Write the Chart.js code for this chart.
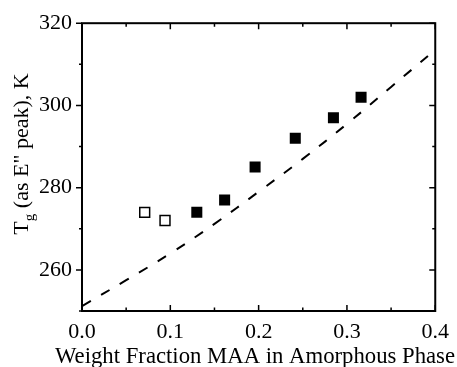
<!DOCTYPE html>
<html>
<head>
<meta charset="utf-8">
<script src="https://cdn.jsdelivr.net/npm/chart.js@4/dist/chart.umd.min.js"></script>
<style>
  body { margin: 0; background: #fff; }
</style>
</head>
<body>
<canvas id="chart" width="457" height="367"></canvas>
<script>
// values
const fitX = [0, 0.05, 0.1, 0.15, 0.2, 0.25, 0.3, 0.35, 0.4];
const fitY = [251.2, 257.5, 264, 271.2, 279, 287, 295.5, 304.5, 313.5];

const openX = [0.071, 0.094];
const openY = [274, 272];

const filledX = [0.130, 0.1615, 0.196, 0.2415, 0.2847, 0.316];
const filledY = [274, 277, 285, 292, 297, 302];

const xTicks = [0.0, 0.1, 0.2, 0.3, 0.4];
const yTicks = [260, 280, 300, 320];

const xTitle = 'Weight Fraction MAA in Amorphous Phase';

const serif = 'Liberation Serif';

const toPoints = (xs, ys) => xs.map((x, i) => ({x: x, y: ys[i]}));

// frame + inward/outward tick marks like the original plot, plus axis titles
const framePlugin = {
    id: 'frame',
    afterDraw(chart) {
        const ctx = chart.ctx;
        const a = chart.chartArea;
        const xs = chart.scales.x;
        const ys = chart.scales.y;
        ctx.save();
        ctx.strokeStyle = '#000';
        ctx.lineWidth = 2;
        ctx.strokeRect(a.left, a.top, a.right - a.left, a.bottom - a.top);
        ctx.lineWidth = 1.5;
        ctx.beginPath();
        xs.ticks.forEach(t => {
            const px = xs.getPixelForValue(t.value);
            const major = xTicks.some(v => Math.abs(v - t.value) < 1e-6);
            const len = major ? 6 : 3.5;
            ctx.moveTo(px, a.bottom); ctx.lineTo(px, a.bottom - len);
            ctx.moveTo(px, a.top); ctx.lineTo(px, a.top + len);
        });
        ys.ticks.forEach(t => {
            const py = ys.getPixelForValue(t.value);
            const major = yTicks.includes(t.value);
            const len = major ? 6 : 3;
            ctx.moveTo(a.left, py); ctx.lineTo(a.left - len, py);
            ctx.moveTo(a.right, py); ctx.lineTo(a.right - len, py);
        });
        ctx.stroke();

        ctx.fillStyle = '#000';
        ctx.textBaseline = 'alphabetic';

        // x title, slightly condensed like the original typeface
        ctx.font = '24px "' + serif + '"';
        ctx.textAlign = 'center';
        ctx.fillText(xTitle, 255, 363, 400);
        ctx.textAlign = 'left';

        // y title with subscript g
        ctx.translate(28, 154);
        ctx.rotate(-Math.PI / 2);
        const big = '22px "' + serif + '"';
        const small = '15px "' + serif + '"';
        const rest = ' (as E" peak), K';
        ctx.font = big;
        const wT = ctx.measureText('T').width;
        const wRest = ctx.measureText(rest).width;
        ctx.font = small;
        const wg = ctx.measureText('g').width;
        const x0 = -(wT + wg + wRest) / 2;
        ctx.font = big;
        ctx.fillText('T', x0, 0);
        ctx.font = small;
        ctx.fillText('g', x0 + wT, 6);
        ctx.font = big;
        ctx.fillText(rest, x0 + wT + wg, 0);
        ctx.restore();
    }
};

new Chart(document.getElementById('chart'), {
    type: 'scatter',
    data: {
        datasets: [
            {
                label: 'fit',
                data: toPoints(fitX, fitY),
                showLine: true,
                borderColor: '#000',
                borderWidth: 2,
                borderDash: [10, 12],
                pointRadius: 0,
                fill: false,
                tension: 0.4
            },
            {
                label: 'open',
                data: toPoints(openX, openY),
                pointStyle: 'rect',
                pointRadius: 7,
                backgroundColor: '#fff',
                borderColor: '#000',
                borderWidth: 1.5
            },
            {
                label: 'filled',
                data: toPoints(filledX, filledY),
                pointStyle: 'rect',
                pointRadius: 7.8,
                backgroundColor: '#000',
                borderColor: '#000',
                borderWidth: 0
            }
        ]
    },
    options: {
        responsive: false,
        animation: false,
        layout: { padding: { top: 23, right: 20, left: 0, bottom: 0 } },
        plugins: { legend: { display: false }, tooltip: { enabled: false } },
        scales: {
            x: {
                type: 'linear',
                min: 0,
                max: 0.4,
                grid: { display: false, drawTicks: false },
                border: { display: false },
                ticks: {
                    stepSize: 0.05,
                    autoSkip: false,
                    maxRotation: 0,
                    padding: 8,
                    color: '#000',
                    font: { family: serif, size: 22 },
                    callback: v => xTicks.some(t => Math.abs(t - v) < 1e-6) ? v.toFixed(1) : ''
                },
                afterFit: s => { s.height = 56; }
            },
            y: {
                min: 250,
                max: 320,
                grid: { display: false, drawTicks: false },
                border: { display: false },
                ticks: {
                    stepSize: 10,
                    autoSkip: false,
                    padding: 10,
                    color: '#000',
                    font: { family: serif, size: 22 },
                    callback: v => yTicks.includes(v) ? v : ''
                },
                afterFit: s => { s.width = 82; }
            }
        }
    },
    plugins: [framePlugin]
});
</script>
</body>
</html>
